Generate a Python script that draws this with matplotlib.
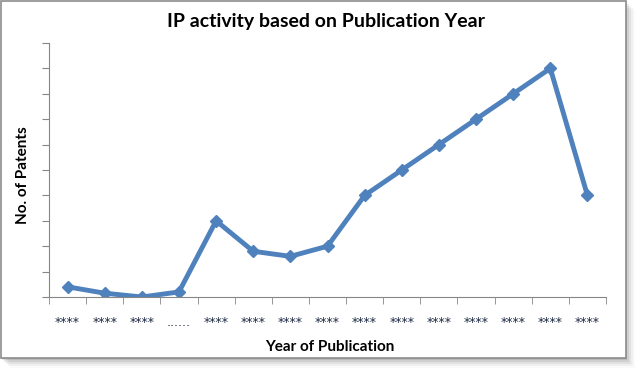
import matplotlib.pyplot as plt
from matplotlib.patches import Rectangle

# data (y ticks unlabelled, scale 0-100)
years = ['****', '****', '****', '......', '****', '****', '****', '****',
         '****', '****', '****', '****', '****', '****', '****']
patents = [4, 1.5, 0, 2, 30, 18, 16, 20, 40, 50, 60, 70, 80, 90, 40]

plt.rcParams['font.family'] = ['Lato', 'DejaVu Sans']

fig = plt.figure(figsize=(6.41, 3.76), dpi=100)

# chart frame with a soft shadow
W, H = 641, 376
for i, a in enumerate([0.10, 0.08, 0.06, 0.04, 0.02]):
    off = 2 + i * 2
    fig.patches.append(Rectangle(((0 + off) / W, (376 - 358 - off) / H), 625 / W, 358 / H,
                                 transform=fig.transFigure, facecolor='black', alpha=a,
                                 edgecolor='none', zorder=0))
fig.patches.append(Rectangle((0.5 / W, (376 - 358) / H), 625 / W, 357.5 / H,
                             transform=fig.transFigure, facecolor='white',
                             edgecolor='#8c8c8c', linewidth=1.2, zorder=1))

ax = fig.add_axes([49 / W, 1 - 297 / H, 557 / W, 254 / H])
ax.set_facecolor('none')
ax.set_zorder(2)

x = list(range(len(patents)))
ax.plot(x, patents, color='#4F81BD', linewidth=3.5, marker='D', markersize=6,
        solid_joinstyle='round')

ax.set_xlim(-0.5, len(patents) - 0.5)
ax.set_ylim(0, 100)
ax.set_yticks(range(0, 101, 10))
ax.set_yticklabels([])
ax.set_xticks(x)
ax.set_xticklabels(years, fontsize=9, color='#1f2a44', family='DejaVu Sans')
ax.set_xticks([i - 0.5 for i in range(len(patents) + 1)], minor=True)
ax.tick_params(axis='x', which='major', length=0, pad=14)
ax.tick_params(axis='x', which='minor', length=5, color='#868686')
ax.tick_params(axis='y', length=5, color='#868686')

for s in ['top', 'right']:
    ax.spines[s].set_visible(False)
for s in ['left', 'bottom']:
    ax.spines[s].set_color('#868686')

fig.text(326 / W, 1 - 22 / H, 'IP activity based on Publication Year', ha='center',
         va='center', fontsize=14, fontweight='bold')
fig.text(330 / W, 1 - 347 / H, 'Year of Publication', ha='center', va='center',
         fontsize=11, fontweight='bold')
fig.text(23 / W, 1 - 175 / H, 'No. of Patents', ha='center', va='center',
         fontsize=11, fontweight='bold', rotation=90)

fig.savefig('out.png', dpi=100)
